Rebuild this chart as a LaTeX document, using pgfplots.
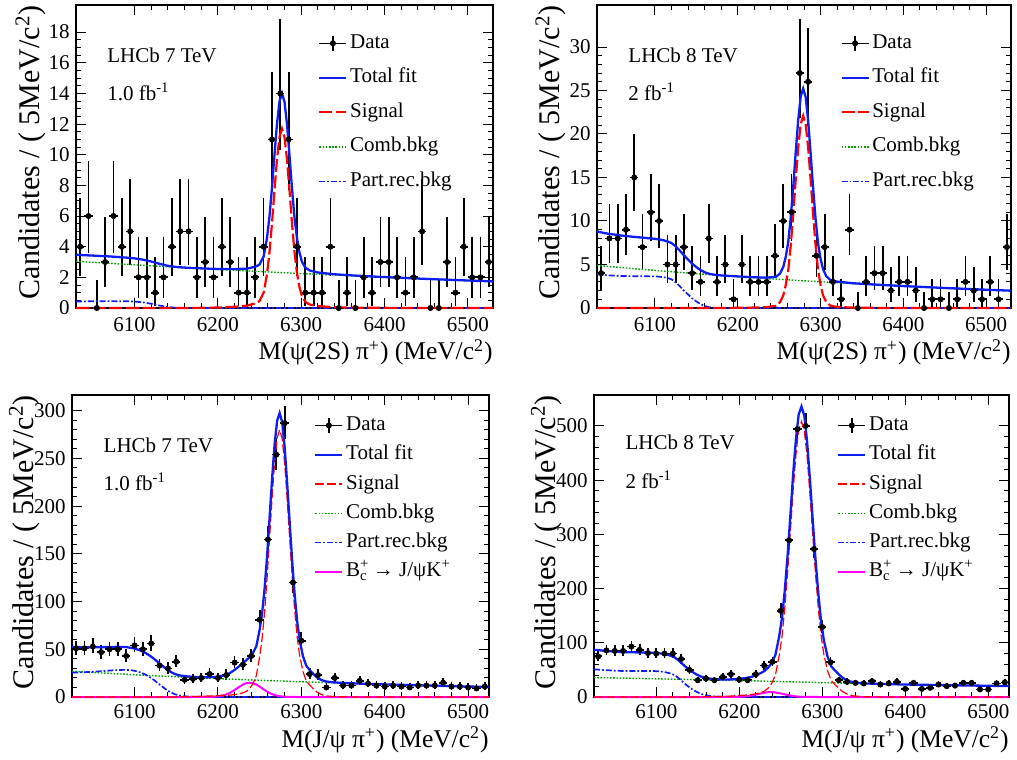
\documentclass[border=0pt]{standalone}
\usepackage{fontspec}
\setmainfont{Liberation Serif}
\usepackage{pgfplots}
\pgfplotsset{compat=1.18}
\usepackage{pgfplotstable}
\definecolor{rblue}{RGB}{15,30,240}
\definecolor{rred}{RGB}{255,0,0}
\definecolor{rgreen}{RGB}{0,160,0}
\definecolor{rmag}{RGB}{255,0,255}
\newcommand{\tickfont}{\fontsize{10.5}{12}\selectfont}
\newcommand{\legfont}{\fontsize{10.5}{12}\selectfont}
\newcommand{\titlefont}{\fontsize{12.75}{14}\selectfont}
\newcommand{\ytitlefont}{\fontsize{15}{17}\selectfont}

% ---------------- data: top-left (psi(2S) pi, 7 TeV)
\pgfplotstableread{
x y lo hi
6035 4 1.94 3.18
6045 6 2.40 3.60
6055 0 0 1.84
6065 3 1.66 2.95
6075 6 2.40 3.60
6085 4 1.94 3.18
6095 5 2.18 3.40
6105 2 1.32 2.66
6115 2 1.32 2.66
6125 1 0.87 2.32
6135 2 1.32 2.66
6145 4 1.94 3.18
6155 5 2.18 3.40
6165 5 2.18 3.40
6175 2 1.32 2.66
6185 3 1.66 2.95
6195 2 1.32 2.66
6205 4 1.94 3.18
6215 3 1.66 2.95
6225 1 0.87 2.32
6235 1 0.87 2.32
6245 2 1.32 2.66
6255 4 1.94 3.18
6265 11 3.28 4.43
6275 14 3.71 4.84
6285 11 3.28 4.43
6295 4 1.94 3.18
6305 1 0.87 2.32
6315 1 0.87 2.32
6325 1 0.87 2.32
6335 4 1.94 3.18
6345 0 0 1.84
6355 1 0.87 2.32
6365 0 0 1.84
6375 2 1.32 2.66
6385 1 0.87 2.32
6395 3 1.66 2.95
6405 3 1.66 2.95
6415 2 1.32 2.66
6425 1 0.87 2.32
6435 2 1.32 2.66
6445 5 2.18 3.40
6455 0 0 1.84
6465 0 0 1.84
6475 3 1.66 2.95
6485 1 0.87 2.32
6495 4 1.94 3.18
6505 2 1.32 2.66
6515 2 1.32 2.66
6525 3 1.66 2.95
}\dataA
\pgfplotstableread{
x tot sig comb prec
6030 3.47 0 3.05 0.42
6050 3.42 0 2.98 0.44
6070 3.365 0 2.915 0.45
6090 3.29 0 2.85 0.44
6100 3.24 0 2.82 0.42
6110 3.156 0 2.786 0.37
6120 3.035 0 2.755 0.28
6130 2.884 0 2.724 0.16
6140 2.753 0 2.693 0.06
6150 2.678 0 2.663 0.015
6160 2.636 0 2.633 0.003
6180 2.585 0.01 2.575 0
6200 2.547 0.03 2.517 0
6220 2.541 0.08 2.461 0
6235 2.569 0.15 2.419 0
6245 2.692 0.3 2.392 0
6250 2.829 0.45 2.379 0
6255 3.365 1.0 2.365 0
6259 4.555 2.2 2.355 0
6262 5.977 3.63 2.347 0
6265 7.859 5.52 2.339 0
6268 10.011 7.68 2.331 0
6271 12.023 9.70 2.323 0
6274 13.475 11.16 2.315 0
6277 14.007 11.7 2.307 0
6280 13.459 11.16 2.299 0
6283 11.992 9.70 2.292 0
6286 9.964 7.68 2.284 0
6289 7.796 5.52 2.276 0
6292 5.898 3.63 2.268 0
6295 4.541 2.28 2.261 0
6298 3.603 1.35 2.253 0
6301 3.005 0.76 2.245 0
6305 2.635 0.40 2.235 0
6310 2.453 0.23 2.223 0
6320 2.318 0.12 2.198 0
6340 2.199 0.05 2.149 0
6370 2.097 0.02 2.077 0
6400 2.018 0.01 2.008 0
6450 1.897 0 1.897 0
6500 1.793 0 1.793 0
6530 1.734 0 1.734 0
}\fitA

% ---------------- data: top-right (psi(2S) pi, 8 TeV)
\pgfplotstableread{
x y lo hi
6035 4 1.94 3.18
6045 8 2.78 3.96
6055 8 2.78 3.96
6065 9 2.96 4.12
6075 15 3.84 4.97
6085 7 2.60 3.78
6095 11 3.28 4.43
6105 10 3.12 4.28
6115 5 2.18 3.40
6125 5 2.18 3.40
6135 7 2.60 3.78
6145 4 1.94 3.18
6155 3 1.66 2.95
6165 8 2.78 3.96
6175 3 1.66 2.95
6185 5 2.18 3.40
6195 1 0.87 2.32
6205 5 2.18 3.40
6215 3 1.66 2.95
6225 3 1.66 2.95
6235 3 1.66 2.95
6245 6 2.40 3.60
6255 10 3.12 4.28
6265 11 3.28 4.43
6275 27 5.17 6.27
6285 26 5.07 6.17
6295 6 2.40 3.60
6305 7 2.60 3.78
6315 3 1.66 2.95
6325 1 0.87 2.32
6335 9 2.96 4.12
6345 0 0 1.84
6355 3 1.66 2.95
6365 4 1.94 3.18
6375 4 1.94 3.18
6385 2 1.32 2.66
6395 3 1.66 2.95
6405 3 1.66 2.95
6415 2 1.32 2.66
6425 0 0 1.84
6435 1 0.87 2.32
6445 1 0.87 2.32
6455 0 0 1.84
6465 1 0.87 2.32
6475 3 1.66 2.95
6485 2 1.32 2.66
6495 1 0.87 2.32
6505 3 1.66 2.95
6515 1 0.87 2.32
6525 7 2.60 3.78
}\dataB
\pgfplotstableread{
x tot sig comb prec
6030 8.80 0 4.90 3.90
6040 8.59 0 4.81 3.78
6050 8.45 0 4.73 3.72
6060 8.32 0 4.64 3.68
6070 8.22 0 4.56 3.66
6080 8.13 0 4.48 3.65
6090 8.04 0 4.40 3.64
6100 7.95 0 4.32 3.63
6105 7.88 0 4.28 3.60
6110 7.79 0 4.24 3.55
6115 7.65 0 4.20 3.45
6120 7.47 0 4.17 3.30
6125 7.08 0 4.13 2.95
6130 6.59 0 4.09 2.50
6135 6.06 0 4.06 2.00
6140 5.57 0 4.02 1.55
6145 5.08 0 3.98 1.10
6150 4.70 0 3.95 0.75
6155 4.36 0 3.91 0.45
6160 4.11 0 3.88 0.23
6165 3.94 0 3.84 0.10
6170 3.85 0 3.81 0.04
6180 3.74 0 3.74 0
6200 3.63 0.02 3.61 0
6220 3.53 0.05 3.48 0
6235 3.49 0.10 3.39 0
6246 3.58 0.26 3.32 0
6251 3.95 0.66 3.29 0
6255 4.73 1.46 3.27 0
6258 5.90 2.65 3.25 0
6261 7.61 4.38 3.23 0
6264 10.40 7.18 3.22 0
6267 13.96 10.76 3.20 0
6270 17.92 14.74 3.18 0
6273 21.61 18.45 3.16 0
6276 24.28 21.13 3.15 0
6279 25.23 22.10 3.13 0
6282 24.25 21.13 3.12 0
6285 21.55 18.45 3.10 0
6288 17.82 14.74 3.08 0
6291 13.83 10.76 3.07 0
6294 10.23 7.18 3.05 0
6297 7.41 4.38 3.03 0
6300 5.66 2.65 3.01 0
6303 4.46 1.46 3.00 0
6307 3.64 0.66 2.98 0
6312 3.21 0.26 2.95 0
6320 3.03 0.12 2.91 0
6340 2.84 0.04 2.80 0
6370 2.67 0.01 2.66 0
6400 2.52 0 2.52 0
6450 2.30 0 2.30 0
6500 2.10 0 2.10 0
6530 1.99 0 1.99 0
}\fitB

% ---------------- data: bottom-left (J/psi pi, 7 TeV)
\pgfplotstableread{
x y lo hi
6030 51 7.12 8.19
6040 51 7.12 8.19
6050 53 7.26 8.33
6060 47 6.84 7.91
6070 50 7.05 8.12
6080 50 7.05 8.12
6090 43 6.54 7.62
6100 54 7.33 8.40
6110 50 7.05 8.12
6120 56 7.47 8.54
6130 33 5.72 6.82
6140 30 5.45 6.55
6150 37 6.06 7.14
6160 18 4.21 5.33
6170 19 4.33 5.44
6180 20 4.44 5.55
6190 24 4.87 5.97
6200 20 4.44 5.55
6210 23 4.77 5.87
6220 36 5.98 7.06
6230 34 5.81 6.90
6240 43 6.54 7.62
6250 81 8.99 10.04
6260 165 12.84 13.88
6270 254 15.93 16.97
6280 287 16.93 17.96
6290 120 10.94 11.99
6300 59 7.66 8.73
6310 24 4.87 5.97
6320 23 4.77 5.87
6330 10 3.12 4.28
6340 20 4.44 5.55
6350 12 3.43 4.57
6360 12 3.43 4.57
6370 17 4.09 5.21
6380 14 3.71 4.84
6390 12 3.43 4.57
6400 11 3.28 4.43
6410 12 3.43 4.57
6420 11 3.28 4.43
6430 10 3.12 4.28
6440 12 3.43 4.57
6450 12 3.43 4.57
6460 12 3.43 4.57
6470 15 3.84 4.97
6480 11 3.28 4.43
6490 11 3.28 4.43
6500 10 3.12 4.28
6510 9 2.96 4.12
6520 11 3.28 4.43
}\dataC
\pgfplotstableread{
x tot sig comb prec bc
6025 52.40 0 26.90 25.5 0
6040 52.15 0 26.15 26.0 0
6050 52.17 0 25.67 26.5 0
6060 52.19 0 25.19 27.0 0
6070 52.42 0 24.72 27.7 0
6080 52.56 0 24.26 28.3 0
6090 52.31 0 23.81 28.5 0
6098 51.16 0 23.36 27.8 0
6103 49.94 0 23.14 26.8 0
6108 48.43 0 22.93 25.5 0
6113 46.21 0 22.71 23.5 0
6118 43.50 0 22.50 21.0 0
6123 40.29 0 22.29 18.0 0
6128 36.58 0 22.08 14.5 0
6133 32.88 0 21.88 11.0 0
6138 29.47 0 21.67 7.8 0
6143 26.47 0 21.47 5.0 0
6148 24.27 0 21.27 3.0 0
6153 22.77 0 21.07 1.7 0
6158 22.07 0.3 20.87 0.9 0
6168 21.18 0.5 20.48 0.2 0
6178 20.81 0.7 20.10 0 0.005
6188 20.77 0.98 19.73 0 0.06
6198 21.05 1.26 19.36 0 0.43
6208 22.71 1.68 19.00 0 2.03
6214 24.91 1.96 18.78 0 4.17
6220 28.39 2.52 18.57 0 7.30
6226 32.62 3.36 18.37 0 10.89
6230 35.72 4.48 18.23 0 13.01
6234 38.45 5.88 18.09 0 14.48
6238 41.92 8.96 17.96 0 15.00
6242 46.30 14.0 17.82 0 14.48
6246 53.10 22.4 17.69 0 13.01
6250 70.45 42.0 17.56 0 10.89
6253 88.16 61.6 17.46 0 9.10
6256 114.26 89.6 17.36 0 7.30
6259 148.89 126.0 17.26 0 5.63
6262 189.34 168.0 17.17 0 4.17
6265 230.04 210.0 17.07 0 2.97
6268 265.40 246.4 16.97 0 2.03
6271 289.81 271.6 16.88 0 1.33
6274 297.62 280.0 16.78 0 0.84
6277 288.00 270.8 16.69 0 0.51
6280 261.89 245.0 16.59 0 0.30
6283 223.87 207.2 16.50 0 0.17
6286 183.10 166.6 16.41 0 0.09
6289 142.36 126.0 16.31 0 0.05
6292 107.24 91.0 16.22 0 0.02
6295 79.13 63.0 16.13 0 0
6298 59.44 43.4 16.04 0 0
6302 42.52 26.6 15.92 0 0
6306 32.60 16.8 15.80 0 0
6310 28.28 12.6 15.68 0 0
6314 24.52 8.96 15.56 0 0
6318 21.05 5.6 15.45 0 0
6324 17.79 2.52 15.27 0 0
6330 16.22 1.12 15.10 0 0
6339 15.27 0.42 14.85 0 0
6354 14.58 0.14 14.44 0 0
6378 13.80 0 13.80 0 0
6398 13.29 0 13.29 0 0
6448 12.10 0 12.10 0 0
6498 11.01 0 11.01 0 0
6525 10.51 0 10.51 0 0
}\fitC

% ---------------- data: bottom-right (J/psi pi, 8 TeV)
\pgfplotstableread{
x y lo hi
6030 75 8.65 9.70
6040 86 9.26 10.31
6050 85 9.21 10.26
6060 85 9.21 10.26
6070 93 9.63 10.68
6080 87 9.31 10.37
6090 81 8.99 10.04
6100 80 8.93 9.99
6110 80 8.93 9.99
6120 80 8.93 9.99
6130 70 8.35 9.41
6140 50 7.05 8.12
6150 31 5.55 6.64
6160 34 5.81 6.90
6170 31 5.55 6.64
6180 37 6.06 7.14
6190 42 6.46 7.54
6200 32 5.63 6.72
6210 31 5.55 6.64
6220 42 6.46 7.54
6230 58 7.60 8.66
6240 65 8.05 9.11
6250 159 12.60 13.64
6260 289 16.99 18.02
6270 494 22.22 23.24
6280 500 22.36 23.38
6290 273 16.52 17.55
6300 129 11.35 12.39
6310 64 7.98 9.05
6320 31 5.55 6.64
6330 28 5.27 6.36
6340 26 5.07 6.17
6350 25 4.97 6.07
6360 29 5.36 6.45
6370 23 4.77 5.87
6380 25 4.97 6.07
6390 28 5.27 6.36
6400 15 3.84 4.97
6410 26 5.07 6.17
6420 15 3.84 4.97
6430 17 4.09 5.21
6440 23 4.77 5.87
6450 20 4.44 5.55
6460 21 4.56 5.66
6470 26 5.07 6.17
6480 26 5.07 6.17
6490 14 3.71 4.84
6500 14 3.71 4.84
6510 25 4.97 6.07
6520 27 5.17 6.27
}\dataD
\pgfplotstableread{
x tot sig comb prec bc
6025 87.00 0 36.00 51.0 0
6040 85.00 0 35.50 49.5 0
6050 83.67 0 35.17 48.5 0
6060 82.83 0 34.83 48.0 0
6070 82.50 0 34.50 48.0 0
6080 82.17 0 34.17 48.0 0
6090 81.83 0 33.83 48.0 0
6098 81.37 0 33.57 47.8 0
6103 80.71 0 33.41 47.3 0
6108 79.75 0 33.25 46.5 0
6113 78.10 0 33.10 45.0 0
6118 75.94 0 32.94 43.0 0
6123 72.29 0 32.79 39.5 0
6128 66.13 0 32.63 33.5 0
6133 58.98 0 32.48 26.5 0
6138 52.32 0 32.32 20.0 0
6143 46.67 0 32.17 14.5 0
6148 42.01 0 32.01 10.0 0
6153 38.16 0 31.86 6.3 0
6158 35.90 0.5 31.70 3.7 0
6168 33.09 0.7 31.39 1.0 0
6178 32.38 1.0 31.08 0.3 0.003
6188 32.31 1.5 30.77 0 0.035
6198 33.26 2.54 30.46 0 0.26
6207.8 34.85 3.56 30.10 0 1.19
6214.5 37.05 4.57 29.84 0 2.64
6221.2 40.49 6.10 29.58 0 4.81
6225.7 43.97 8.13 29.41 0 6.43
6230.2 47.77 10.67 29.24 0 7.86
6234.7 54.10 16.26 29.06 0 8.78
6239.2 63.26 25.40 28.89 0 8.97
6243.6 77.75 40.64 28.72 0 8.39
6248.1 111.91 76.20 28.54 0 7.17
6251.5 146.17 111.76 28.41 0 6.00
6254.8 195.65 162.56 28.28 0 4.81
6258.2 260.38 228.60 28.15 0 3.63
6261.6 335.43 304.80 28.02 0 2.61
6264.9 410.69 381.00 27.89 0 1.80
6268.3 475.97 447.04 27.76 0 1.17
6271.6 521.12 492.76 27.63 0 0.73
6275 535.93 508.00 27.50 0 0.43
6278.4 518.84 491.24 27.36 0 0.24
6281.7 471.86 444.50 27.23 0 0.13
6285.1 403.08 375.92 27.10 0 0.06
6288.4 329.25 302.26 26.96 0 0.03
6291.8 255.44 228.60 26.83 0 0.01
6295.2 191.79 165.10 26.69 0 0
6298.5 140.86 114.30 26.56 0 0
6301.9 105.16 78.74 26.42 0 0
6306.4 74.50 48.26 26.24 0 0
6310.8 56.55 30.48 26.07 0 0
6315.3 48.75 22.86 25.89 0 0
6319.8 41.97 16.26 25.71 0 0
6324.3 35.69 10.16 25.53 0 0
6331 29.83 4.57 25.26 0 0
6337.7 27.02 2.03 24.99 0 0
6347.8 25.35 0.76 24.59 0 0
6364.6 24.31 0.25 24.06 0 0
6380 23.70 0.10 23.60 0 0
6400 23.00 0 23.00 0 0
6450 21.80 0 21.80 0 0
6500 20.70 0 20.70 0 0
6525 20.20 0 20.20 0 0
}\fitD

\pgfplotsset{
  lhcbaxis/.style={
    scale only axis,
    anchor=south west,
    clip=false,
    axis line style={line width=0.6pt},
    every tick/.style={black, line width=0.5pt},
    tick align=inside,
    major tick length=5pt,
    minor tick length=2.5pt,
    xtick={6100,6200,6300,6400,6500},
    minor x tick num=4,
    ymin=0,
    ticklabel style={font=\tickfont},
    /pgf/number format/assume math mode=true,
    /pgf/number format/set thousands separator={},
    yticklabel style={inner sep=0pt, xshift=-3pt},
    xlabel style={font=\titlefont, anchor=base east, inner sep=0pt},
    ylabel style={font=\ytitlefont, anchor=south east, inner sep=0pt},
    legend style={draw=none, fill=none, font=\legfont, anchor=north west,
      inner sep=0pt, column sep=1.3pt,
      nodes={inner sep=0pt, text height=8pt, text depth=3pt}},
    legend cell align=left,
    legend image code/.code={\draw[##1] (0pt,0pt) -- (13.5pt,0pt);},
  },
  datastyle/.style={forget plot, only marks, black, mark=*, mark size=1.3pt,
    mark options={fill=black, draw=black},
    error bars/.cd, y dir=both, y explicit, x dir=both, x fixed=5,
    error mark=none, error bar style={line width=0.85pt, black}},
  combstyle/.style={forget plot, rgreen, line width=0.7pt, dash pattern=on 0.8pt off 0.8pt},
  precstyle/.style={forget plot, rblue, line width=0.85pt, dash pattern=on 3pt off 1pt on 0.9pt off 1pt},
  sigtop/.style={forget plot, rred, line width=1.1pt, dash pattern=on 6.5pt off 1.8pt},
  sigbot/.style={forget plot, rred, line width=0.6pt, dash pattern=on 4.5pt off 1.5pt},
  totstyle/.style={forget plot, rblue, line width=1.15pt},
  bcstyle/.style={forget plot, rmag, line width=1pt},
}

\newcommand{\datalegend}{%
  \addlegendimage{legend image code/.code={%
    \draw[line width=0.75pt] (0pt,0pt)--(13.5pt,0pt);
    \draw[line width=0.75pt] (6.75pt,-3.75pt)--(6.75pt,3.75pt);
    \fill (6.75pt,0pt) circle (1.3pt);}}
  \addlegendentry{Data}}

\begin{document}
\begin{tikzpicture}
\useasboundingbox (0pt,0pt) rectangle (508.5pt,380pt);

% ===== top-left
\begin{axis}[lhcbaxis, at={(38pt,226pt)}, width=208.5pt, height=151.5pt,
  xmin=6030, xmax=6530, ymax=19.77, ytick={0,2,...,18}, minor y tick num=3,
  xticklabel style={anchor=base, inner sep=0pt, yshift=-11.8pt},
  xlabel={M(ψ(2S) π\textsuperscript{+}) (MeV/c\textsuperscript{2})},
  ylabel={Candidates / ( 5MeV/c\textsuperscript{2})},
  xlabel style={at={(rel axis cs:1,-0.1716)}},
  ylabel style={at={(rel axis cs:-0.0705,1)}},
  legend style={at={(rel axis cs:0.580,0.911)}, row sep=6.25pt}]
\addplot[datastyle] table[x=x, y=y, y error plus=hi, y error minus=lo] {\dataA};
\addplot[combstyle] table[x=x, y=comb] {\fitA};
\addplot[precstyle] table[x=x, y=prec] {\fitA};
\addplot[sigtop] table[x=x, y=sig] {\fitA};
\addplot[totstyle] table[x=x, y=tot] {\fitA};
\datalegend
\addlegendimage{rblue, line width=1.15pt}\addlegendentry{Total fit}
\addlegendimage{rred, line width=1.1pt, dash pattern=on 6.5pt off 1.8pt}\addlegendentry{Signal}
\addlegendimage{rgreen, line width=0.7pt, dash pattern=on 0.8pt off 0.8pt}\addlegendentry{Comb.bkg}
\addlegendimage{rblue, line width=0.85pt, dash pattern=on 3pt off 1pt on 0.9pt off 1pt}\addlegendentry{Part.rec.bkg}
\node[anchor=base west, inner sep=0pt, font=\legfont] at (rel axis cs:0.074,0.809) {LHCb 7 TeV};
\node[anchor=base west, inner sep=0pt, font=\legfont] at (rel axis cs:0.074,0.686) {1.0 fb\textsuperscript{-1}};
\end{axis}

% ===== top-right
\begin{axis}[lhcbaxis, at={(298.5pt,226pt)}, width=207pt, height=151.5pt,
  xmin=6030, xmax=6530, ymax=34.83, ytick={0,5,...,30}, minor y tick num=4,
  xticklabel style={anchor=base, inner sep=0pt, yshift=-11.8pt},
  xlabel={M(ψ(2S) π\textsuperscript{+}) (MeV/c\textsuperscript{2})},
  ylabel={Candidates / ( 5MeV/c\textsuperscript{2})},
  xlabel style={at={(rel axis cs:1,-0.1716)}},
  ylabel style={at={(rel axis cs:-0.0734,1)}},
  legend style={at={(rel axis cs:0.587,0.911)}, row sep=6.25pt}]
\addplot[datastyle] table[x=x, y=y, y error plus=hi, y error minus=lo] {\dataB};
\addplot[combstyle] table[x=x, y=comb] {\fitB};
\addplot[precstyle] table[x=x, y=prec] {\fitB};
\addplot[sigtop] table[x=x, y=sig] {\fitB};
\addplot[totstyle] table[x=x, y=tot] {\fitB};
\datalegend
\addlegendimage{rblue, line width=1.15pt}\addlegendentry{Total fit}
\addlegendimage{rred, line width=1.1pt, dash pattern=on 6.5pt off 1.8pt}\addlegendentry{Signal}
\addlegendimage{rgreen, line width=0.7pt, dash pattern=on 0.8pt off 0.8pt}\addlegendentry{Comb.bkg}
\addlegendimage{rblue, line width=0.85pt, dash pattern=on 3pt off 1pt on 0.9pt off 1pt}\addlegendentry{Part.rec.bkg}
\node[anchor=base west, inner sep=0pt, font=\legfont] at (rel axis cs:0.075,0.809) {LHCb 8 TeV};
\node[anchor=base west, inner sep=0pt, font=\legfont] at (rel axis cs:0.075,0.686) {2 fb\textsuperscript{-1}};
\end{axis}

% ===== bottom-left
\begin{axis}[lhcbaxis, at={(36pt,31.5pt)}, width=208.5pt, height=151pt,
  xmin=6025, xmax=6525, ymax=316.5, ytick={0,50,...,300}, minor y tick num=4,
  xticklabel style={anchor=base, inner sep=0pt, yshift=-10.9pt},
  xlabel={M(J/ψ π\textsuperscript{+}) (MeV/c\textsuperscript{2})},
  ylabel={Candidates / ( 5MeV/c\textsuperscript{2})},
  xlabel style={at={(rel axis cs:1,-0.1669)}},
  ylabel style={at={(rel axis cs:-0.0767,1)}},
  legend style={at={(rel axis cs:0.580,0.937)}, row sep=3.65pt}]
\addplot[datastyle] table[x=x, y=y, y error plus=hi, y error minus=lo] {\dataC};
\addplot[combstyle] table[x=x, y=comb] {\fitC};
\addplot[precstyle] table[x=x, y=prec] {\fitC};
\addplot[bcstyle] table[x=x, y=bc] {\fitC};
\addplot[sigbot] table[x=x, y=sig] {\fitC};
\addplot[totstyle] table[x=x, y=tot] {\fitC};
\datalegend
\addlegendimage{rblue, line width=1.15pt}\addlegendentry{Total fit}
\addlegendimage{rred, line width=0.6pt, dash pattern=on 4.5pt off 1.5pt}\addlegendentry{Signal}
\addlegendimage{rgreen, line width=0.7pt, dash pattern=on 0.8pt off 0.8pt}\addlegendentry{Comb.bkg}
\addlegendimage{rblue, line width=0.85pt, dash pattern=on 3pt off 1pt on 0.9pt off 1pt}\addlegendentry{Part.rec.bkg}
\addlegendimage{rmag, line width=1pt}\addlegendentry{B\rlap{\textsuperscript{+}}\textsubscript{c} → J/ψK\textsuperscript{+}}
\node[anchor=base west, inner sep=0pt, font=\legfont] at (rel axis cs:0.075,0.811) {LHCb 7 TeV};
\node[anchor=base west, inner sep=0pt, font=\legfont] at (rel axis cs:0.075,0.685) {1.0 fb\textsuperscript{-1}};
\end{axis}

% ===== bottom-right
\begin{axis}[lhcbaxis, at={(297pt,31.5pt)}, width=207.5pt, height=151pt,
  xmin=6025, xmax=6525, ymax=557, ytick={0,100,...,500}, minor y tick num=4,
  xticklabel style={anchor=base, inner sep=0pt, yshift=-10.9pt},
  xlabel={M(J/ψ π\textsuperscript{+}) (MeV/c\textsuperscript{2})},
  ylabel={Candidates / ( 5MeV/c\textsuperscript{2})},
  xlabel style={at={(rel axis cs:1,-0.1669)}},
  ylabel style={at={(rel axis cs:-0.0771,1)}},
  legend style={at={(rel axis cs:0.585,0.937)}, row sep=3.65pt}]
\addplot[datastyle] table[x=x, y=y, y error plus=hi, y error minus=lo] {\dataD};
\addplot[combstyle] table[x=x, y=comb] {\fitD};
\addplot[precstyle] table[x=x, y=prec] {\fitD};
\addplot[bcstyle] table[x=x, y=bc] {\fitD};
\addplot[sigbot] table[x=x, y=sig] {\fitD};
\addplot[totstyle] table[x=x, y=tot] {\fitD};
\datalegend
\addlegendimage{rblue, line width=1.15pt}\addlegendentry{Total fit}
\addlegendimage{rred, line width=0.6pt, dash pattern=on 4.5pt off 1.5pt}\addlegendentry{Signal}
\addlegendimage{rgreen, line width=0.7pt, dash pattern=on 0.8pt off 0.8pt}\addlegendentry{Comb.bkg}
\addlegendimage{rblue, line width=0.85pt, dash pattern=on 3pt off 1pt on 0.9pt off 1pt}\addlegendentry{Part.rec.bkg}
\addlegendimage{rmag, line width=1pt}\addlegendentry{B\rlap{\textsuperscript{+}}\textsubscript{c} → J/ψK\textsuperscript{+}}
\node[anchor=base west, inner sep=0pt, font=\legfont] at (rel axis cs:0.075,0.818) {LHCb 8 TeV};
\node[anchor=base west, inner sep=0pt, font=\legfont] at (rel axis cs:0.075,0.692) {2 fb\textsuperscript{-1}};
\end{axis}
\end{tikzpicture}
\end{document}
